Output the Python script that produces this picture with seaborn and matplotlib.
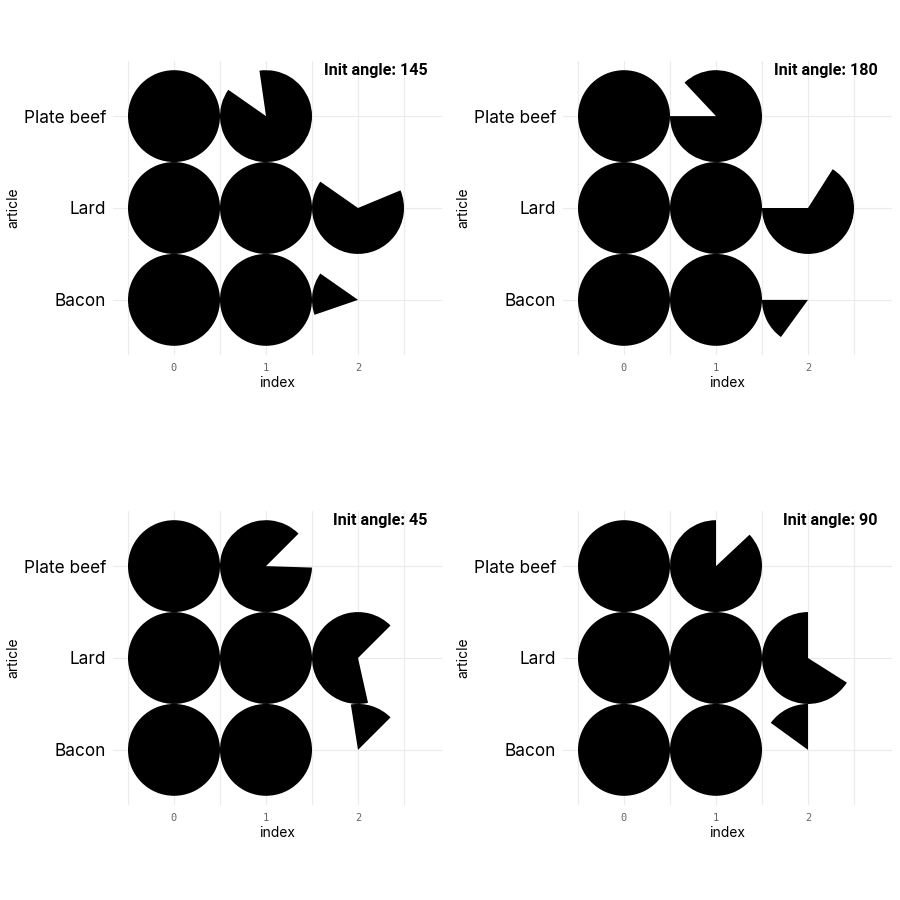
import numpy as np
import pandas as pd
import seaborn as sns
import matplotlib.pyplot as plt
from matplotlib.patches import Wedge

# datos
articles = ["Bacon", "Lard", "Plate beef"]
amounts = [2.15, 2.66, 1.87]
init_angles = [145, 180, 45, 90]

rows = []
for angle in init_angles:
    for pos, (art, amt) in enumerate(zip(articles, amounts)):
        n_full = int(amt)
        for i in range(n_full):
            rows.append({"angle": angle, "article": art, "row": pos, "index": i, "frac": 1.0})
        rows.append({"angle": angle, "article": art, "row": pos, "index": n_full, "frac": amt - n_full})
df = pd.DataFrame(rows)

sns.set_theme(style="whitegrid")
plt.rcParams['font.family'] = ['Inter', 'DejaVu Sans']


def draw_pictogram(data, **kws):
    ax = plt.gca()
    for _, r in data.iterrows():
        start = r["angle"]
        ax.add_patch(Wedge((r["index"], r["row"]), 0.5, start, start + 360 * r["frac"],
                           facecolor="black", edgecolor="none", zorder=3))


g = sns.FacetGrid(df, col="angle", col_wrap=2, col_order=init_angles,
                  sharex=False, sharey=False, height=4.5, aspect=1, despine=False)
g.map_dataframe(draw_pictogram)
fig = g.figure
fig.set_size_inches(9, 9)

positions = [(113, 61), (563, 61), (113, 511), (563, 511)]
for ax, angle, (px, py) in zip(g.axes.flat, init_angles, positions):
    ax.set_position([px / 900, 1 - (py + 294) / 900, 329 / 900, 294 / 900])
    ax.set_xlim(-0.663, 2.913)
    ax.set_ylim(-0.6, 2.6)
    ax.set_facecolor("white")
    for s in ax.spines.values():
        s.set_visible(False)
    ax.set_xticks([0, 1, 2])
    ax.set_xticks([-0.5, 0.5, 1.5, 2.5], minor=True)
    ax.set_xticklabels(["0", "1", "2"], family="DejaVu Sans Mono", fontsize=7.5, color="#666666")
    ax.set_yticks(range(len(articles)))
    ax.set_yticklabels(articles, fontsize=12.4, color="black")
    ax.tick_params(axis="both", length=0)
    ax.tick_params(axis="x", pad=6)
    ax.tick_params(axis="y", pad=5)
    ax.grid(which="major", axis="both", color="#ebebeb", linewidth=0.8)
    ax.grid(which="minor", axis="x", color="#ebebeb", linewidth=0.8)
    ax.grid(which="minor", axis="y", visible=False)
    ax.set_title("")
    ax.set_xlabel("index", fontsize=10, labelpad=2, color="black")
    ax.set_ylabel("article", fontsize=10, color="black")
    ax.yaxis.set_label_coords(-0.283, 0.5)
    ax.text(0.957, 0.966, f"Init angle: {angle}", transform=ax.transAxes,
            ha="right", va="center", fontsize=11.6, fontweight="bold",
            family="Roboto", color="black")

fig.savefig("out.png", dpi=100, facecolor="white")
